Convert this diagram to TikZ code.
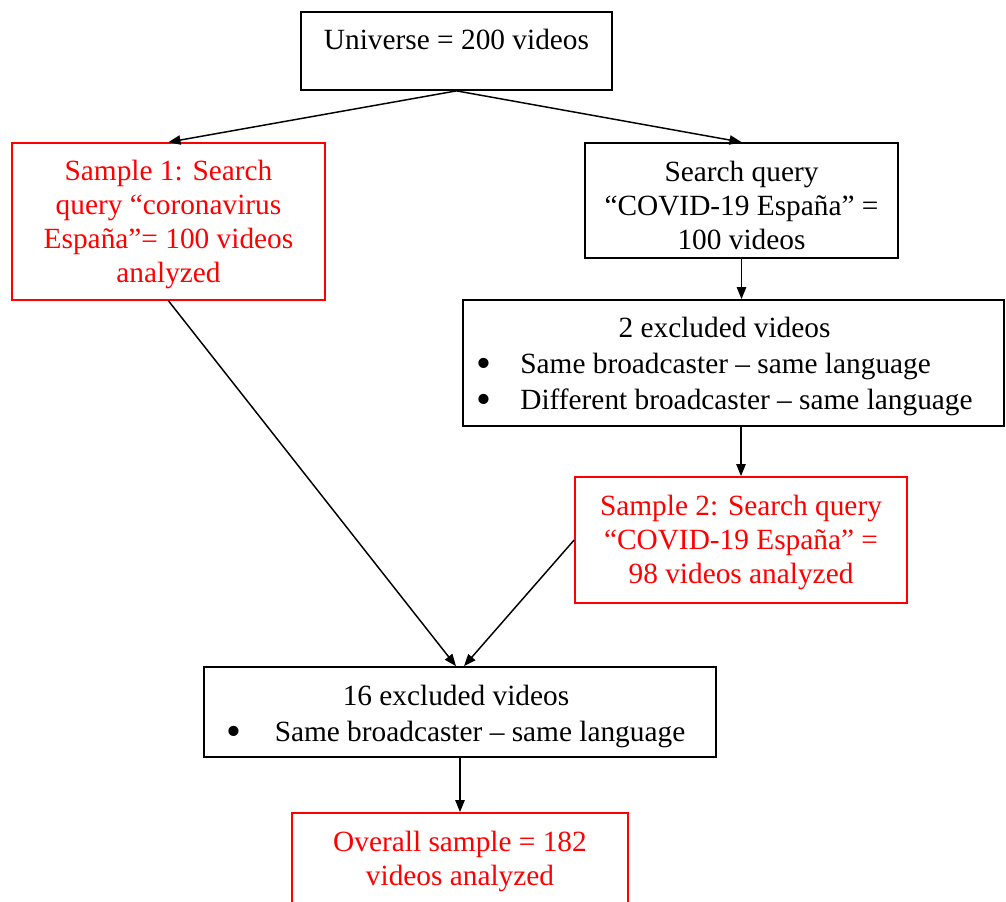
\documentclass[tikz,border=0pt]{standalone}
\usepackage{fontspec}
\setmainfont{Liberation Serif}
\usetikzlibrary{arrows.meta}
\definecolor{ink}{HTML}{000000}
\definecolor{sample}{HTML}{FF0000}
\tikzset{
  px/.style={x=0.75pt, y=-0.75pt},
  size/.style 2 args={minimum width=#1*0.75pt, minimum height=#2*0.75pt},
  box/.style={draw=ink, line width=1.3pt, inner sep=0pt, align=center, text=ink, font=\fontsize{22}{25.5}\selectfont},
  samplebox/.style={box, draw=sample, text=sample},
  listbox/.style={box, font=\fontsize{22}{27}\selectfont},
  flow/.style={draw=ink, line width=1.1pt, -{Triangle[length=9pt,width=7pt]}},
}
% first-line strut, pushes a text block down inside its box
\newcommand{\drop}[1]{\rule{0pt}{#1}}
\newcommand{\bul}[1]{\makebox[#1][l]{\smash{\raisebox{-3pt}{\scalebox{1.45}{\textbullet}}}}}

\begin{document}
\begin{tikzpicture}[px]
  \useasboundingbox (0,0) rectangle (1006,901);

  \node[box, size={311}{78}, text height=15pt, text depth=17pt] (univ) at (456.5,51) {Universe = 200 videos};

  \node[samplebox, size={313}{157}] (s1) at (168.5,221.5) {\drop{19.5pt}Sample 1: Search\\query “coronavirus\\España”= 100 videos\\analyzed};
  \node[box, size={313}{115}] (query) at (741.5,200.5) {\drop{22.5pt}Search query\\“COVID-19 España” =\\100 videos};

  % exclusion lists, bullets as in the source table
  \node[listbox, size={541}{126}] (excl2) at (733.5,363)
    {\begin{tabular}{@{}l@{\hspace{13.5pt}}}
     \multicolumn{1}{@{}c@{\hspace{13.5pt}}}{\drop{23.4pt}2 excluded videos}\\
     \bul{33pt}Same broadcaster – same language\\
     \bul{33pt}Different broadcaster – same language
     \end{tabular}};
  \node[samplebox, size={332}{126}] (s2) at (741,540) {\drop{19.5pt}Sample 2: Search query\\“COVID-19 España” =\\98 videos analyzed};
  \node[listbox, size={512}{90}] (excl16) at (460,712)
    {\begin{tabular}{@{}l@{\hspace{6pt}}}
     \multicolumn{1}{@{}c@{\hspace{6pt}}}{\drop{24.9pt}16 excluded videos}\\
     \bul{36pt}Same broadcaster – same language
     \end{tabular}};
  \node[samplebox, size={336}{93}] (all) at (460,859.5) {\drop{18.8pt}Overall sample = 182\\videos analyzed};

  \draw[flow] (univ.south) -- (s1.north);
  \draw[flow] (univ.south) -- (query.north);
  \draw[flow] (query.south) -- (query.south |- excl2.north);
  \draw[flow] (s2.north |- excl2.south) -- (s2.north);
  \draw[flow] (s1.south) -- ([xshift=-3]excl16.north);
  \draw[flow] (s2.west) -- ([xshift=3]excl16.north);
  \draw[flow] (excl16.south) -- (all.north);
\end{tikzpicture}
\end{document}
